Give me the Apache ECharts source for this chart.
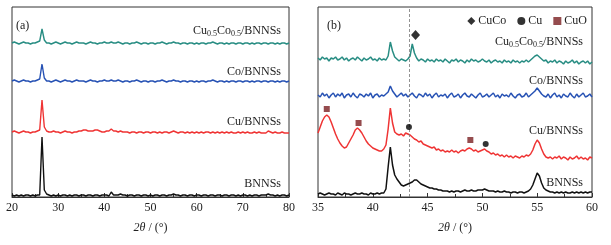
<!DOCTYPE html>
<html>
<head>
<meta charset="utf-8">
<script src="https://cdn.jsdelivr.net/npm/echarts@6/dist/echarts.min.js"></script>
<style>
  html, body { margin: 0; padding: 0; background: #fff; }
  #chart { width: 611px; height: 245px; }
</style>
</head>
<body>
<div id="chart"></div>
<script>
// (a) 20-80 deg, sampled every 0.5 deg; values are offset intensities (stacked)
const xStartA = 20, xStepA = 0.5
const bnnsA = [
  2,1,2,1,2,1,2,2,1,2,
  1,2,2,60,7,3,2,1,2,1,
  2,1,2,2,1,2,1,2,2,1,
  2,2,1,2,2,1,2,2,1,2,
  2,2,1,5,2,2,2,3,2,2,
  1,2,2,1,2,2,1,2,2,1,
  2,1,2,2,1,2,2,1,2,2,
  3,2,2,1,2,2,1,2,2,1,
  2,2,1,2,2,1,2,2,1,2,
  2,1,2,2,1,2,2,1,2,1,
  2,2,1,2,1,2,2,1,2,2,
  2,3,2,2,1,2,1,2,2,1,
  2
]
const cuA = [
  65,66,65,64,65,66,65,65,64,65,
  65,66,67,97,70,66,65,65,66,65,
  65,64,65,66,65,65,64,65,65,66,
  66,67,67,66,66,66,67,67,66,65,
  65,66,66,68,66,66,65,66,65,65,
  65,64,65,65,64,65,65,64,65,65,
  64,65,65,64,65,64,65,65,64,65,
  66,65,64,65,65,64,65,64,65,64,
  65,64,65,64,65,65,64,65,64,65,
  64,65,64,65,64,65,64,64,65,64,
  65,64,65,64,64,65,64,65,64,64,
  64,66,65,64,65,64,64,65,64,64,
  64
]
const coA = [
  116,117,116,115,116,117,116,116,115,116,
  116,117,118,133,119,116,116,115,116,117,
  116,115,116,117,116,116,115,116,117,116,
  116,116,115,116,117,116,116,115,116,116,
  117,116,116,117,116,116,117,116,115,116,
  116,115,116,116,117,116,115,116,116,115,
  116,116,115,116,116,117,116,115,116,116,
  117,116,116,115,116,116,115,116,116,115,
  116,115,116,116,115,116,116,117,116,115,
  116,116,115,116,115,116,116,115,116,116,
  115,116,116,115,116,115,116,116,115,116,
  116,115,116,116,115,116,115,116,116,115,
  116
]
const cucoA = [
  154,155,154,153,154,155,154,154,153,154,
  154,155,156,168,157,154,154,153,154,155,
  154,153,154,155,154,154,153,154,155,154,
  154,154,153,154,155,154,154,153,154,154,
  155,154,154,155,154,154,155,154,153,154,
  154,153,154,154,155,154,153,154,154,153,
  154,154,153,154,154,155,154,153,154,154,
  155,154,154,153,154,154,153,154,154,153,
  154,153,154,154,153,154,154,155,154,153,
  154,154,153,154,153,154,154,153,154,154,
  153,154,154,153,154,153,154,154,153,154,
  154,153,154,154,153,154,153,154,154,153,
  154
]

// (b) 35-60 deg, sampled every 0.2 deg
const xStartB = 35, xStepB = 0.2
const cucoB = [
  139,137,140,138,139,136,139,138,140,137,
  138,140,137,139,136,138,139,137,140,138,
  136,139,137,138,140,137,138,136,139,137,
  138,137,141,155,146,140,138,136,138,137,
  136,138,141,153,144,139,136,138,137,135,
  138,136,137,135,138,136,137,135,138,136,
  134,137,136,138,135,137,136,134,137,135,
  138,136,137,135,136,138,136,135,137,134,
  136,137,135,136,134,137,135,136,134,137,
  135,136,134,136,135,137,135,137,139,141,
  142,140,138,136,137,134,136,135,137,134,
  136,135,133,136,134,135,137,134,136,133,
  135,136,134,136,133,135
]
const coB = [
  102,100,104,101,103,99,102,104,100,103,
  101,104,99,102,103,100,104,101,99,103,
  102,100,103,101,104,99,102,103,100,102,
  101,103,105,111,106,103,100,102,104,101,
  103,100,102,104,101,99,103,102,100,104,
  101,103,99,102,104,100,102,101,103,99,
  102,104,100,101,103,99,102,104,101,100,
  103,101,99,102,104,100,101,103,100,102,
  104,100,102,99,103,101,102,100,104,101,
  99,102,103,100,101,104,100,102,104,106,
  109,106,103,101,100,103,99,102,104,100,
  102,99,103,101,100,104,101,99,103,100,
  102,104,100,101,103,100
]
const cuB = [
  64,70,76,80,82,80,75,69,63,58,
  54,51,49,50,54,58,62,67,69,67,
  64,60,56,53,51,49,48,47,46,46,
  48,52,68,89,74,65,63,62,63,61,
  64,63,62,60,58,57,55,56,53,52,
  51,50,49,50,47,48,46,47,45,46,
  45,47,45,46,44,46,47,46,48,49,
  48,46,47,45,46,47,48,46,45,43,
  44,42,43,41,42,40,42,40,41,39,
  41,40,39,41,40,42,41,43,47,53,
  57,54,48,43,40,39,40,38,40,39,
  41,38,40,39,37,40,38,39,41,38,
  40,38,39,37,40,39
]
const bnnsB = [
  3,4,3,2,3,4,3,3,2,4,
  3,2,4,3,3,2,3,4,3,3,
  4,3,3,2,4,3,3,4,3,4,
  4,8,30,50,32,22,18,15,12,11,
  12,13,14,15,17,17,15,13,12,11,
  10,9,9,8,8,7,7,6,6,6,
  5,6,5,6,6,5,6,7,6,6,
  7,6,6,7,7,7,8,7,6,6,
  6,5,6,5,5,6,5,5,4,5,
  5,4,5,5,4,5,6,8,12,18,
  24,21,14,9,7,6,5,5,4,5,
  4,5,4,5,4,4,5,4,5,4,
  5,4,5,4,5,5
]

// phase markers in (b): [2θ, offset intensity]
const cucoMarks = [[43.9, 162]]
const cuMarks = [[43.3, 70], [50.3, 53]]
const cuoMarks = [[35.8, 88], [38.7, 74], [48.9, 57]]
const refLine = 43.3

const colors = { bnns: '#111111', cu: '#ef3434', co: '#2752b4', cuco: '#288d83' }
const serif = '"Liberation Serif", "DejaVu Serif", serif'

const pair = (start, step, ys) => ys.map((y, i) => [+(start + i * step).toFixed(2), y])

const chart = echarts.init(document.getElementById('chart'))

const xAxisBase = {
  type: 'value',
  axisLine: { lineStyle: { color: '#333', width: 1 } },
  axisTick: { inside: true, length: 4, lineStyle: { color: '#333' } },
  minorTick: { show: true, splitNumber: 2, length: 3, lineStyle: { color: '#333' } },
  splitLine: { show: false },
  axisLabel: { color: '#222', fontFamily: serif, fontSize: 12, margin: 5 },
  name: '{i|2θ}{n| / (°)}',
  nameLocation: 'middle',
  nameGap: 25,
  nameTextStyle: {
    color: '#222', fontFamily: serif, fontSize: 12, fontWeight: 'normal',
    rich: {
      i: { fontFamily: serif, fontStyle: 'italic', fontWeight: 'normal', fontSize: 12, color: '#222' },
      n: { fontFamily: serif, fontWeight: 'normal', fontSize: 12, color: '#222' }
    }
  }
}

const line = (name, data, color, idx) => ({
  name, type: 'line', xAxisIndex: idx, yAxisIndex: idx,
  data, showSymbol: false, symbol: 'none', silent: true,
  lineStyle: { color, width: idx ? 1.5 : 1.4 }, z: 2
})

const lbl = (x, y, main) => {
  const rich = {
    m: { fontFamily: serif, fontSize: 12, color: '#222' },
    s: { fontFamily: serif, fontSize: 8, color: '#222', padding: [6, 0, 0, 0] }
  }
  return {
    type: 'text', x, y,
    style: { text: main, rich, align: 'right', verticalAlign: 'middle', font: '12px ' + serif, fill: '#222' }
  }
}
const cucoText = '{m|Cu}{s|0.5}{m|Co}{s|0.5}{m|/BNNSs}'

chart.setOption({
  animation: false,
  grid: [
    { left: 12, top: 7, width: 277, height: 190, show: true, borderColor: '#333', borderWidth: 1 },
    { left: 318, top: 7, width: 274, height: 190, show: true, borderColor: '#333', borderWidth: 1 }
  ],
  xAxis: [
    Object.assign({}, xAxisBase, { gridIndex: 0, min: 20, max: 80, interval: 10 }),
    Object.assign({}, xAxisBase, { gridIndex: 1, min: 35, max: 60, interval: 5 })
  ],
  yAxis: [
    { type: 'value', gridIndex: 0, min: 0, max: 190, show: false },
    { type: 'value', gridIndex: 1, min: 0, max: 190, show: false }
  ],
  legend: {
    right: 19, top: 10, itemGap: 11, itemWidth: 8, itemHeight: 8,
    textStyle: { fontFamily: serif, fontSize: 12, color: '#222', padding: [0, 0, 0, -2] },
    data: [
      { name: 'CuCo', icon: 'diamond', itemStyle: { color: '#000' } },
      { name: 'Cu', icon: 'circle', itemStyle: { color: '#000' } },
      { name: 'CuO', icon: 'rect', itemStyle: { color: '#7a1f22' } }
    ]
  },
  series: [
    line('BNNSs a', pair(xStartA, xStepA, bnnsA), colors.bnns, 0),
    line('Cu a', pair(xStartA, xStepA, cuA), colors.cu, 0),
    line('Co a', pair(xStartA, xStepA, coA), colors.co, 0),
    line('CuCo a', pair(xStartA, xStepA, cucoA), colors.cuco, 0),
    Object.assign(line('BNNSs b', pair(xStartB, xStepB, bnnsB), colors.bnns, 1), {
      markLine: {
        silent: true, symbol: 'none', label: { show: false },
        lineStyle: { color: '#777', type: [3, 2], width: 0.8 },
        data: [{ xAxis: refLine }]
      }
    }),
    line('Cu b', pair(xStartB, xStepB, cuB), colors.cu, 1),
    line('Co b', pair(xStartB, xStepB, coB), colors.co, 1),
    line('CuCo b', pair(xStartB, xStepB, cucoB), colors.cuco, 1),
    { name: 'CuCo', type: 'scatter', xAxisIndex: 1, yAxisIndex: 1, data: cucoMarks,
      symbol: 'diamond', symbolSize: [9, 10], itemStyle: { color: '#000' }, z: 5 },
    { name: 'Cu', type: 'scatter', xAxisIndex: 1, yAxisIndex: 1, data: cuMarks,
      symbol: 'circle', symbolSize: 6, itemStyle: { color: '#000' }, z: 5 },
    { name: 'CuO', type: 'scatter', xAxisIndex: 1, yAxisIndex: 1, data: cuoMarks,
      symbol: 'rect', symbolSize: 6, itemStyle: { color: '#7a1f22' }, z: 5 }
  ],
  graphic: [
    { type: 'text', x: 16, y: 26, style: { text: '(a)', font: '12px ' + serif, fill: '#222', verticalAlign: 'middle' } },
    { type: 'text', x: 327, y: 26, style: { text: '(b)', font: '12px ' + serif, fill: '#222', verticalAlign: 'middle' } },
    lbl(281, 31, cucoText),
    lbl(281, 72, '{m|Co/BNNSs}'),
    lbl(281, 122, '{m|Cu/BNNSs}'),
    lbl(281, 184, '{m|BNNSs}'),
    lbl(583, 42, cucoText),
    lbl(583, 81, '{m|Co/BNNSs}'),
    lbl(583, 131, '{m|Cu/BNNSs}'),
    lbl(583, 183, '{m|BNNSs}')
  ]
})
</script>
</body>
</html>
